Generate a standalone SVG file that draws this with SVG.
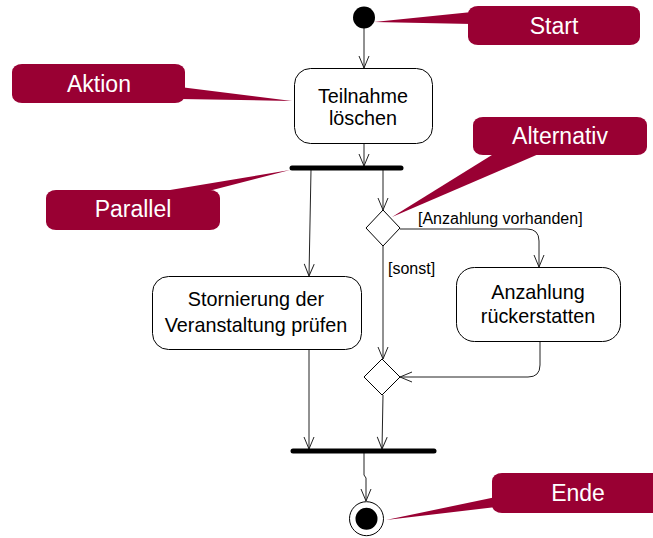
<svg xmlns="http://www.w3.org/2000/svg" width="653" height="538" viewBox="0 0 653 538">
<defs>
<style>
.node{fill:#fff;stroke:#000;stroke-width:1}
.conn{fill:none;stroke:#222;stroke-width:1}
.bar{stroke:#000;stroke-width:5;stroke-linecap:round}
.nt{font-family:"Liberation Sans",Arial,sans-serif;font-size:19.8px;fill:#000;text-anchor:middle}
.lbl{font-family:"Liberation Sans",Arial,sans-serif;font-size:16px;fill:#000}
.co{fill:#990033}
.ct{font-family:"Liberation Sans",Arial,sans-serif;font-size:23px;fill:#fff;text-anchor:middle}
</style>
<marker id="arr" viewBox="0 0 14 12" refX="13" refY="6" markerWidth="14" markerHeight="12" orient="auto" markerUnits="userSpaceOnUse">
<path d="M1,1 L13,6 L1,11" fill="none" stroke="#222" stroke-width="1"/>
</marker>
</defs>
<rect width="653" height="538" fill="#fff"/>
<g id="connectors">
<path class="conn" d="M364,28 L364,68" marker-end="url(#arr)"/>
<path class="conn" d="M364,143 L364,166" marker-end="url(#arr)"/>
<path class="conn" d="M311,170 L309,276" marker-end="url(#arr)"/>
<path class="conn" d="M383,170 L383,210" marker-end="url(#arr)"/>
<path class="conn" d="M400,229 L527,229 Q539,229 539,241 L539,267" marker-end="url(#arr)"/>
<path class="conn" d="M383,246 L383,359" marker-end="url(#arr)"/>
<path class="conn" d="M540,341 L540,365 Q540,377 528,377 L400,377" marker-end="url(#arr)"/>
<path class="conn" d="M309,349 L309,449" marker-end="url(#arr)"/>
<path class="conn" d="M383,395 L382,449" marker-end="url(#arr)"/>
<path class="conn" d="M364,453 L364,475 L366,478 L366,501" marker-end="url(#arr)"/>
<text class="lbl" x="418" y="224">[Anzahlung vorhanden]</text>
<text class="lbl" x="388" y="274">[sonst]</text>
</g>
<g id="start"><circle cx="364" cy="17.5" r="11" fill="#000"/></g>
<g id="teilnahme">
<rect class="node" x="294.5" y="68.5" width="138" height="75" rx="16"/>
<text class="nt" x="363" y="103">Teilnahme</text>
<text class="nt" x="363" y="125">löschen</text>
</g>
<g id="fork"><line class="bar" x1="292" y1="168" x2="401" y2="168"/></g>
<g id="decision1"><polygon class="node" points="383,210 400,228 383,246 366,228"/></g>
<g id="stornierung">
<rect class="node" x="152.5" y="276.5" width="209" height="73" rx="16"/>
<text class="nt" x="256" y="306">Stornierung der</text>
<text class="nt" x="256" y="332">Veranstaltung prüfen</text>
</g>
<g id="anzahlung">
<rect class="node" x="456.5" y="267.5" width="164" height="74" rx="18"/>
<text class="nt" x="538" y="299">Anzahlung</text>
<text class="nt" x="538" y="323">rückerstatten</text>
</g>
<g id="merge"><polygon class="node" points="382,359 400,377 382,395 364,377"/></g>
<g id="join"><line class="bar" x1="293" y1="451" x2="434" y2="451"/></g>
<g id="end">
<circle cx="366.5" cy="518.7" r="17" fill="#fff" stroke="#000" stroke-width="1"/>
<circle cx="366.5" cy="518.7" r="11" fill="#000"/>
</g>
<g id="callout-start">
<polygon class="co" points="472,12 374,22 472,24"/>
<rect class="co" x="468" y="6" width="172" height="39" rx="10" ry="8"/>
<text class="ct" x="554" y="34">Start</text>
</g>
<g id="callout-aktion">
<polygon class="co" points="180,87 292,101 180,99"/>
<rect class="co" x="12" y="64" width="173" height="39" rx="10" ry="8"/>
<text class="ct" x="99" y="92">Aktion</text>
</g>
<g id="callout-parallel">
<polygon class="co" points="146,194 290,170 197,194"/>
<rect class="co" x="46" y="190" width="174" height="40" rx="10" ry="8"/>
<text class="ct" x="133" y="217">Parallel</text>
</g>
<g id="callout-alternativ">
<polygon class="co" points="500,150 392,217 548,150"/>
<rect class="co" x="473" y="117" width="174" height="38" rx="10" ry="8"/>
<text class="ct" x="560" y="144">Alternativ</text>
</g>
<g id="callout-ende">
<polygon class="co" points="496,497 386,520 496,507"/>
<rect class="co" x="492" y="473" width="172" height="40" rx="10" ry="8"/>
<text class="ct" x="578" y="501">Ende</text>
</g>
</svg>
